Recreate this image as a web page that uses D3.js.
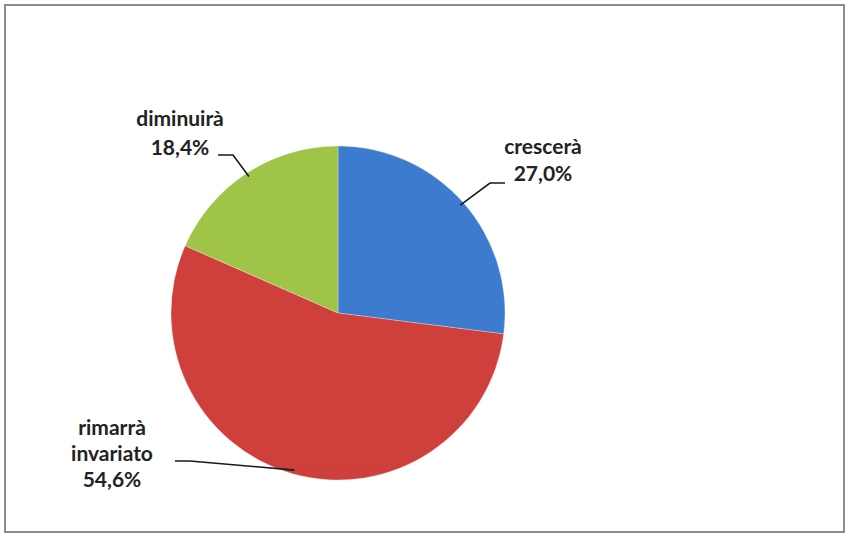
<!DOCTYPE html>
<html>
<head>
<meta charset="utf-8">
<script src="https://cdn.jsdelivr.net/npm/d3@7/dist/d3.min.js"></script>
<style>
  html, body { margin: 0; padding: 0; background: #fff; }
  svg { display: block; }
  text { font-family: Lato, "Open Sans", sans-serif; font-weight: bold; fill: #222; }
</style>
</head>
<body>
<svg id="chart" width="846" height="536"></svg>
<script>
// Survey answers, percentages
const categories = ["crescerà", "rimarrà invariato", "diminuirà"];
const values = [27.0, 54.6, 18.4];
const labelLines = [["crescerà", "27,0%"], ["rimarrà", "invariato", "54,6%"], ["diminuirà", "18,4%"]];
const colorsTop = ["#3c7bcd", "#cf403c", "#9fc448"];
const colorsBottom = ["#2e64aa", "#a82b28", "#8aae3a"];

const width = 846, height = 536;
const cx = 338, cy = 313, r = 167;

const svg = d3.select("#chart");

// chart frame
svg.append("rect")
  .attr("x", 5).attr("y", 5)
  .attr("width", 839).attr("height", 527)
  .attr("fill", "#fff")
  .attr("stroke", "#8c8c8c")
  .attr("stroke-width", 2);

const defs = svg.append("defs");
categories.forEach((c, i) => {
  const g = defs.append("linearGradient")
    .attr("id", "grad" + i)
    .attr("gradientUnits", "userSpaceOnUse")
    .attr("x1", 0).attr("y1", cy - r)
    .attr("x2", 0).attr("y2", cy + r);
  g.append("stop").attr("offset", "0%").attr("stop-color", colorsTop[i]);
  g.append("stop").attr("offset", "100%").attr("stop-color", colorsBottom[i]);
});

const pie = d3.pie().sort(null).value(d => d)(values);
const arc = d3.arc().innerRadius(0).outerRadius(r);

const g = svg.append("g").attr("transform", `translate(${cx},${cy})`);
g.selectAll("path.slice")
  .data(pie)
  .join("path")
  .attr("class", "slice")
  .attr("d", arc)
  .attr("fill", (d, i) => `url(#grad${i})`)
  .attr("stroke", "rgba(255,255,255,0.35)")
  .attr("stroke-width", 0.8);

// label placement: text centre x, first baseline, line step and leader elbow
const labelPos = [
  { x: 543, y: 154, lineDy: 27, endX: 505, elbowX: 490, elbowY: 183 },
  { x: 112, y: 435, lineDy: 26, endX: 175, elbowX: 190, elbowY: 461 },
  { x: 180, y: 126, lineDy: 29, endX: 218, elbowX: 233, elbowY: 155 }
];

pie.forEach((d, i) => {
  const p = labelPos[i];
  const t = svg.append("text")
    .attr("text-anchor", "middle")
    .attr("font-size", 21);
  labelLines[i].forEach((s, k) => {
    t.append("tspan").attr("x", p.x).attr("y", p.y + k * p.lineDy).text(s);
  });
  // leader line from the label to the middle of the slice edge
  const mid = (d.startAngle + d.endAngle) / 2;
  const ex = cx + Math.sin(mid) * (r - 4);
  const ey = cy - Math.cos(mid) * (r - 4);
  svg.append("path")
    .attr("d", d3.line()([[p.endX, p.elbowY], [p.elbowX, p.elbowY], [ex, ey]]))
    .attr("fill", "none")
    .attr("stroke", "#1a1a1a")
    .attr("stroke-width", 1.6);
});
</script>
</body>
</html>
